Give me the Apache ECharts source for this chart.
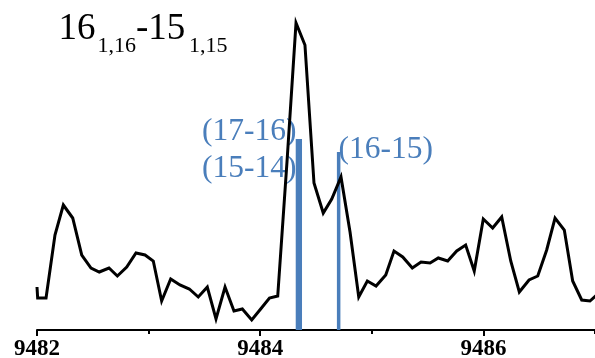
<!DOCTYPE html>
<html>
<head>
<meta charset="utf-8">
<script src="https://cdn.jsdelivr.net/npm/echarts@6/dist/echarts.min.js"></script>
<style>
html,body{margin:0;padding:0;background:#fff;}
#chart{width:595px;height:358px;}
</style>
</head>
<body>
<div id="chart"></div>
<script>
// Spectrum trace (frequency, intensity in arbitrary units)
var specFreq = [9482.000, 9482.006, 9482.081, 9482.161, 9482.236, 9482.320, 9482.401, 9482.484, 9482.558, 9482.645,
  9482.720, 9482.804, 9482.887, 9482.968, 9483.042, 9483.117, 9483.198, 9483.281, 9483.365, 9483.445,
  9483.526, 9483.604, 9483.685, 9483.765, 9483.840, 9483.924, 9484.004, 9484.083, 9484.157, 9484.240,
  9484.321, 9484.401, 9484.482, 9484.565, 9484.641, 9484.724, 9484.805, 9484.883, 9484.960, 9485.038,
  9485.125, 9485.199, 9485.277, 9485.363, 9485.441, 9485.522, 9485.596, 9485.680, 9485.761, 9485.841,
  9485.918, 9485.999, 9486.083, 9486.164, 9486.245, 9486.322, 9486.409, 9486.487, 9486.567, 9486.642,
  9486.725, 9486.800, 9486.881, 9486.955, 9487.036];
var specIntensity = [43, 32, 32, 95, 125, 112, 75, 62, 58, 62,
  54, 63, 77, 75, 69, 29, 51, 45, 41, 33,
  43, 11, 43, 19, 21, 10, 21, 32, 34, 168,
  307, 285, 147, 117, 131, 153, 98, 33, 49, 44,
  55, 79, 73, 62, 68, 67, 72, 69, 79, 85,
  59, 111, 102, 113, 69, 38, 50, 54, 80, 112,
  100, 49, 30, 29, 37];
// Predicted line positions (stick spectrum)
var stickFreq = [9484.334, 9484.359, 9484.703];
var stickHeight = [191, 191, 178];
var stickLabels = ['(17-16)', '(15-14)', '(16-15)'];
// Axis
var xMin = 9482, xMax = 9488, xInterval = 2;
var titleMain1 = '16', titleSub1 = '1,16', titleMain2 = '-15', titleSub2 = '1,15';

var lineData = specFreq.map(function (f, i) { return [f, specIntensity[i]]; });
var stickData = stickFreq.map(function (f, i) { return [f, stickHeight[i]]; });

var blue = '#4a7ebb';
var serif = '"Liberation Serif", "Times New Roman", serif';

function txt(text, x, y, size, color) {
  return {
    type: 'text', x: x, y: y, silent: true,
    style: {
      text: text, fontSize: size, fontFamily: serif, fill: color,
      align: 'left', textAlign: 'left', verticalAlign: 'middle', textVerticalAlign: 'middle'
    }
  };
}

var chart = echarts.init(document.getElementById('chart'), null, {renderer: 'canvas'});
chart.setOption({
  animation: false,
  backgroundColor: '#ffffff',
  grid: {left: 37, width: 669.6, top: 0, bottom: 28, containLabel: false, outerBoundsMode: 'none'},
  xAxis: {
    type: 'value', min: xMin, max: xMax, interval: xInterval,
    axisLine: {show: true, lineStyle: {color: '#000', width: 2}},
    axisTick: {show: true, length: 6, lineStyle: {color: '#000', width: 2}},
    minorTick: {show: true, splitNumber: 2, length: 4, lineStyle: {color: '#000', width: 2}},
    splitLine: {show: false}, minorSplitLine: {show: false},
    axisLabel: {color: '#000', fontFamily: serif, fontWeight: 'bold', fontSize: 23, margin: 8,
      formatter: function (v) { return String(v); }}
  },
  yAxis: {type: 'value', min: 0, max: 330, show: false, splitLine: {show: false}},
  graphic: [
    txt(titleMain1, 58.5, 29.5, 37, '#000'),
    txt(titleSub1, 97.5, 46.5, 22, '#000'),
    txt(titleMain2, 136, 29.5, 37, '#000'),
    txt(titleSub2, 189, 46.5, 22, '#000'),
    txt(stickLabels[0], 202, 131.5, 31.5, blue),
    txt(stickLabels[1], 202, 168.5, 31.5, blue),
    txt(stickLabels[2], 338.5, 149.5, 31.5, blue)
  ],
  series: [
    {
      type: 'custom', data: stickData, z: 2,
      renderItem: function (params, api) {
        var p0 = api.coord([api.value(0), 0]);
        var p1 = api.coord([api.value(0), api.value(1)]);
        return {type: 'line', shape: {x1: p0[0], y1: p0[1], x2: p1[0], y2: p1[1]},
          style: {stroke: blue, lineWidth: 3.5}};
      }
    },
    {
      type: 'line', data: lineData, z: 3, showSymbol: false, symbol: 'none', smooth: false,
      lineStyle: {color: '#000', width: 3, join: 'miter'}, clip: true
    }
  ]
});
</script>
</body>
</html>
